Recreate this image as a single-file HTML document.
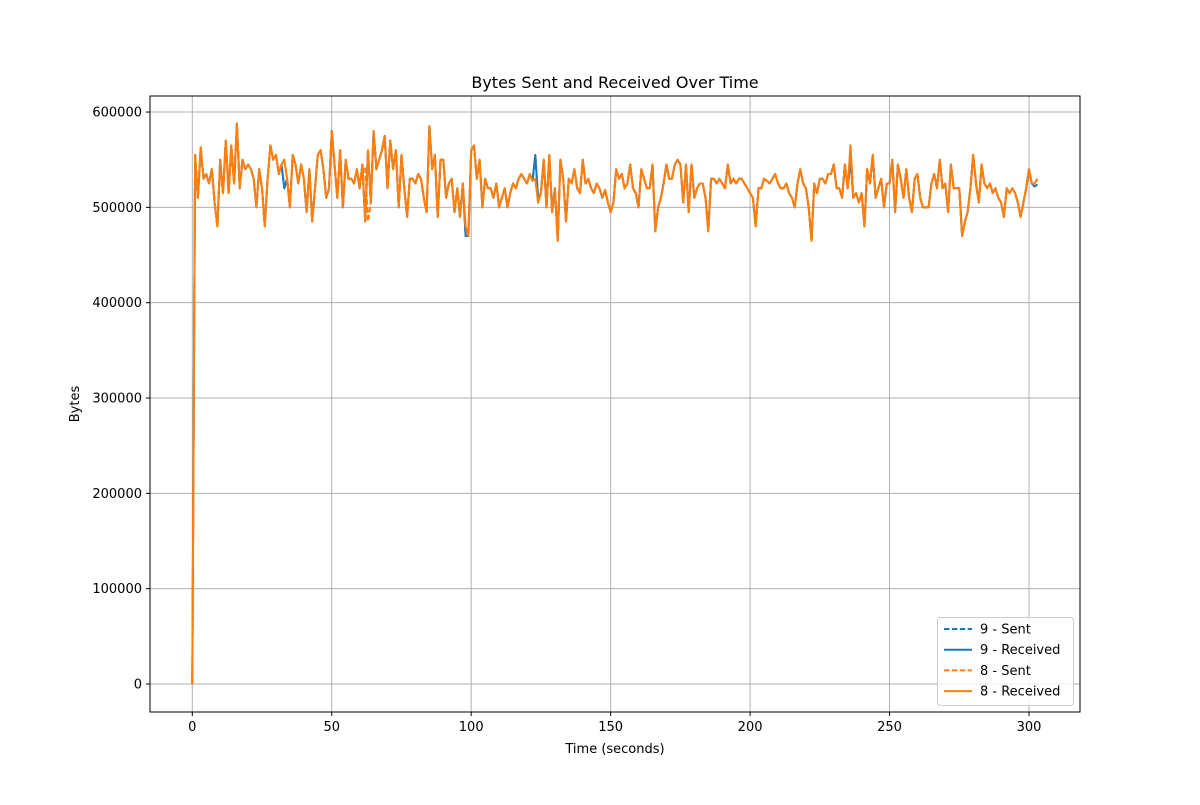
<!DOCTYPE html>
<html><head><meta charset="utf-8"><style>
body{margin:0;background:#fff;font-family:"Liberation Sans","DejaVu Sans",sans-serif;}
svg text{font-family:"DejaVu Sans","Liberation Sans",sans-serif;}
</style></head><body>
<svg id="chart" width="1200" height="800" xmlns="http://www.w3.org/2000/svg">
<rect width="1200" height="800" fill="#fff"/>
<g id="grid"></g>
<g id="series"></g>
<rect x="150" y="96" width="930" height="616" fill="none" stroke="#000" stroke-width="1"/>
<g id="ticks"></g>
<text x="615" y="88" text-anchor="middle" font-size="16">Bytes Sent and Received Over Time</text>
<text x="615" y="753" text-anchor="middle" font-size="13">Time (seconds)</text>
<text x="79" y="404" text-anchor="middle" font-size="13" transform="rotate(-90 79 404)">Bytes</text>
<g id="legend"></g>
</svg>
<script>
// values in thousands of bytes, one per second starting at t=0
const recv8 = [0,555,510,563,530,535,525,540,505,480,
550,515,570,515,565,525,588,520,550,540,
545,540,530,500,540,520,480,530,565,550,
555,535,545,550,530,500,555,545,525,545,
530,495,540,485,520,555,560,540,510,520,
580,545,510,560,500,550,530,530,525,540,
520,545,485,560,505,580,540,550,560,575,
520,570,540,560,500,555,520,490,530,530,
525,535,530,510,495,585,540,555,490,550,
550,510,525,530,495,520,490,525,480,470,
560,565,530,550,500,530,520,520,510,525,
500,510,520,500,515,525,520,530,535,530,
525,535,528,530,505,515,550,500,555,495,
520,465,550,530,485,530,525,540,520,515,
550,525,530,520,515,525,520,510,518,505,
495,505,540,530,535,520,525,545,520,515,
500,540,530,520,520,545,475,500,510,525,
545,530,530,545,550,545,505,545,495,545,
510,520,525,525,510,475,530,530,525,530,
525,520,545,525,530,525,530,530,525,520,
515,510,480,520,520,530,528,525,530,535,
525,520,520,525,515,510,500,525,540,525,
520,500,465,525,515,530,530,525,535,535,
545,520,520,510,545,520,565,510,515,505,
515,480,540,525,555,510,520,530,500,525,
525,550,495,545,530,510,540,510,495,530,
535,510,500,500,500,525,535,520,550,520,
525,495,545,520,520,520,470,485,495,520,
555,525,505,545,525,520,525,515,520,510,
505,490,520,515,520,515,505,490,505,520,
540,525,525,530];
const sent9 = recv8.slice();
sent9[33]=520; sent9[98]=470; sent9[123]=555; sent9[124]=510; sent9[125]=515; sent9[236]=550; sent9[302]=522; sent9[303]=524;
const recv9 = sent9.slice();
const sent8 = recv8.slice();
sent8[62]=540; sent8[63]=485;
const xTicks = [0,50,100,150,200,250,300];
const yTicks = [0,100000,200000,300000,400000,500000,600000];
const legendLabels = ["9 - Sent","9 - Received","8 - Sent","8 - Received"];

const NS="http://www.w3.org/2000/svg";
function X(t){return 192.3 + t*139.45/50;}
function Y(v){return 684 - v/100000*95.33;}
function mk(tag,attrs,parent){const e=document.createElementNS(NS,tag);for(const k in attrs)e.setAttribute(k,attrs[k]);parent.appendChild(e);return e;}
const grid=document.getElementById('grid'), ticks=document.getElementById('ticks');
xTicks.forEach(t=>{
  const g=mk('line',{x1:X(t),x2:X(t),y1:96,y2:712,stroke:'#b0b0b0','stroke-width':1},grid);
  
  
  const tk=mk('line',{x1:X(t),x2:X(t),y1:712,y2:716,stroke:'#000'},ticks);
  
  
  const tx=mk('text',{x:X(t),y:731,'text-anchor':'middle','font-size':13},ticks);
  tx.textContent=t;
  
  
});
yTicks.forEach(v=>{
  const g=mk('line',{x1:150,x2:1080,y1:Y(v),y2:Y(v),stroke:'#b0b0b0','stroke-width':1},grid);
  
  
  const tk=mk('line',{x1:146,x2:150,y1:Y(v),y2:Y(v),stroke:'#000'},ticks);
  
  
  const tx=mk('text',{x:142,y:Y(v)+4.5,'text-anchor':'end','font-size':13},ticks);
  tx.textContent=v;
  
  
});
const sg=document.getElementById('series');
const defs=[[sent9,'#1f77b4','5.5,2.4','series-9-sent'],[recv9,'#1f77b4','','series-9-received'],[sent8,'#ff7f0e','5.5,2.4','series-8-sent'],[recv8,'#ff7f0e','','series-8-received']];
defs.forEach(d=>{
  const pts=d[0].map((v,i)=>X(i).toFixed(1)+','+Y(v*1000).toFixed(1)).join(' ');
  const a={points:pts,fill:'none',stroke:d[1],'stroke-width':2,'stroke-linejoin':'round'};
  if(d[2])a['stroke-dasharray']=d[2];
  const p=mk('polyline',a,sg);
  
  
});
const lg=document.getElementById('legend');
const box=mk('rect',{x:937.5,y:617.5,width:136,height:88,rx:3,fill:'#fff','fill-opacity':0.8,stroke:'#ccc'},lg);


legendLabels.forEach((lab,i)=>{
  const y=629+i*20.7;
  const a={x1:944,x2:972,y1:y,y2:y,stroke:defs[i][1],'stroke-width':2};
  if(defs[i][2])a['stroke-dasharray']=defs[i][2];
  const l=mk('line',a,lg);
  
  
  const t=mk('text',{x:980,y:y+4.5,'font-size':13},lg);
  t.textContent=lab;
  
  
});
</script>
</body></html>
